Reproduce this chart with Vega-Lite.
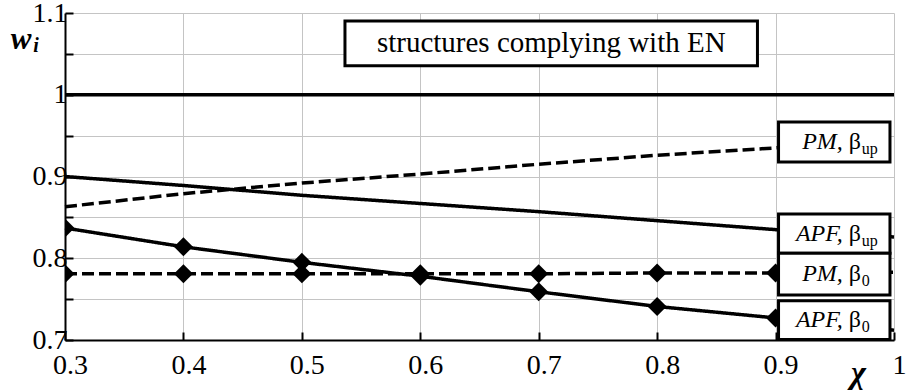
{
  "$schema": "https://vega.github.io/schema/vega-lite/v6.json",
  "width": 829,
  "height": 327,
  "autosize": {"type": "none"},
  "padding": {"left": 65, "top": 13, "right": 13, "bottom": 50},
  "background": "white",
  "config": {
    "view": {"stroke": null},
    "font": "Liberation Serif, Times New Roman, serif",
    "axis": {
      "labelFont": "Liberation Serif, Times New Roman, serif",
      "labelColor": "black",
      "titleFont": "Liberation Serif, Times New Roman, serif",
      "titleColor": "black",
      "domainColor": "black",
      "domainWidth": 2,
      "tickColor": "black",
      "tickWidth": 2,
      "gridColor": "#c4c4c4",
      "gridWidth": 1,
      "gridOpacity": 1
    }
  },
  "datasets": {
    "lines": [
      {"chi": 0.3, "w": 1.0, "series": "ref"},
      {"chi": 1.0, "w": 1.0, "series": "ref"},
      {"chi": 0.3, "w": 0.863, "series": "PM_up"},
      {"chi": 0.4, "w": 0.879, "series": "PM_up"},
      {"chi": 0.5, "w": 0.892, "series": "PM_up"},
      {"chi": 0.6, "w": 0.903, "series": "PM_up"},
      {"chi": 0.7, "w": 0.915, "series": "PM_up"},
      {"chi": 0.8, "w": 0.926, "series": "PM_up"},
      {"chi": 0.9, "w": 0.935, "series": "PM_up"},
      {"chi": 1.0, "w": 0.944, "series": "PM_up"},
      {"chi": 0.3, "w": 0.900, "series": "APF_up"},
      {"chi": 0.4, "w": 0.889, "series": "APF_up"},
      {"chi": 0.5, "w": 0.877, "series": "APF_up"},
      {"chi": 0.6, "w": 0.867, "series": "APF_up"},
      {"chi": 0.7, "w": 0.857, "series": "APF_up"},
      {"chi": 0.8, "w": 0.846, "series": "APF_up"},
      {"chi": 0.9, "w": 0.835, "series": "APF_up"},
      {"chi": 1.0, "w": 0.826, "series": "APF_up"},
      {"chi": 0.3, "w": 0.781, "series": "PM_0"},
      {"chi": 0.4, "w": 0.781, "series": "PM_0"},
      {"chi": 0.5, "w": 0.781, "series": "PM_0"},
      {"chi": 0.6, "w": 0.781, "series": "PM_0"},
      {"chi": 0.7, "w": 0.781, "series": "PM_0"},
      {"chi": 0.8, "w": 0.782, "series": "PM_0"},
      {"chi": 0.9, "w": 0.782, "series": "PM_0"},
      {"chi": 1.0, "w": 0.783, "series": "PM_0"},
      {"chi": 0.3, "w": 0.837, "series": "APF_0"},
      {"chi": 0.4, "w": 0.814, "series": "APF_0"},
      {"chi": 0.5, "w": 0.795, "series": "APF_0"},
      {"chi": 0.6, "w": 0.778, "series": "APF_0"},
      {"chi": 0.7, "w": 0.759, "series": "APF_0"},
      {"chi": 0.8, "w": 0.741, "series": "APF_0"},
      {"chi": 0.9, "w": 0.727, "series": "APF_0"},
      {"chi": 1.0, "w": 0.712, "series": "APF_0"}
    ],
    "boxes": [
      {"x0": 0.5364, "x1": 0.8847, "y0": 1.0355, "y1": 1.0901},
      {"x0": 0.9025, "x1": 0.9966, "y0": 0.9177, "y1": 0.9667},
      {"x0": 0.9025, "x1": 0.9966, "y0": 0.806, "y1": 0.854},
      {"x0": 0.9025, "x1": 0.9966, "y0": 0.755, "y1": 0.806},
      {"x0": 0.9025, "x1": 0.9966, "y0": 0.7005, "y1": 0.748}
    ],
    "labels": [
      {"name": "PM,", "beta": "β", "sub": "up", "tx": 0.9576, "ym": 0.9422},
      {"name": "APF,", "beta": "β", "sub": "up", "tx": 0.9576, "ym": 0.830},
      {"name": "PM,", "beta": "β", "sub": "0", "tx": 0.9576, "ym": 0.7805},
      {"name": "APF,", "beta": "β", "sub": "0", "tx": 0.9576, "ym": 0.724}
    ],
    "note": [
      {"text": "structures complying with EN", "tx": 0.7106, "ym": 1.0628}
    ]
  },
  "layer": [
    {
      "data": {"name": "lines"},
      "mark": {"type": "line", "color": "black", "strokeWidth": 3.5},
      "encoding": {
        "x": {
          "field": "chi", "type": "quantitative",
          "scale": {"domain": [0.3, 1.0], "nice": false, "zero": false},
          "axis": {
            "values": [0.3, 0.4, 0.5, 0.6, 0.7, 0.8, 0.9, 1.0],
            "labelExpr": "datum.value == 1 ? '1' : format(datum.value, '.1f')",
            "labelFontSize": 28,
            "labelPadding": 19,
            "labelOffset": 5,
            "labelFlush": false,
            "tickSize": -8,
            "grid": true,
            "title": "χ",
            "titleFontSize": 32,
            "titleFontStyle": "italic",
            "titleFontWeight": "bold",
            "titleX": 793,
            "titleY": 32,
            "titleBaseline": "middle"
          }
        },
        "y": {
          "field": "w", "type": "quantitative",
          "scale": {"domain": [0.7, 1.1], "nice": false, "zero": false},
          "axis": {
            "values": [0.7, 0.75, 0.8, 0.85, 0.9, 0.95, 1.0, 1.05, 1.1],
            "labelExpr": "abs(datum.value * 10 - round(datum.value * 10)) < 0.01 ? (datum.value == 1 ? '1' : format(datum.value, '.1f')) : ''",
            "labelFontSize": 28,
            "labelPadding": 6,
            "labelFlush": false,
            "tickSize": -8,
            "grid": true,
            "title": null
          }
        },
        "strokeDash": {
          "field": "series", "type": "nominal",
          "scale": {
            "domain": ["ref", "PM_up", "APF_up", "PM_0", "APF_0"],
            "range": [[1, 0], [12, 5], [1, 0], [12, 5], [1, 0]]
          },
          "legend": null
        }
      }
    },
    {
      "data": {"name": "lines"},
      "transform": [
        {"filter": "(datum.series == 'PM_0' || datum.series == 'APF_0') && datum.chi < 0.95"}
      ],
      "mark": {"type": "point", "shape": "diamond", "filled": true, "color": "black", "size": 360, "opacity": 1, "clip": true},
      "encoding": {
        "x": {"field": "chi", "type": "quantitative"},
        "y": {"field": "w", "type": "quantitative"}
      }
    },
    {
      "data": {"name": "boxes"},
      "mark": {"type": "rect", "fill": "white", "stroke": "black", "strokeWidth": 3},
      "encoding": {
        "x": {"field": "x0", "type": "quantitative"},
        "x2": {"field": "x1"},
        "y": {"field": "y0", "type": "quantitative"},
        "y2": {"field": "y1"}
      }
    },
    {
      "data": {"name": "note"},
      "mark": {"type": "text", "font": "Liberation Serif, Times New Roman, serif", "fontSize": 29, "align": "center", "baseline": "middle", "color": "black"},
      "encoding": {
        "x": {"field": "tx", "type": "quantitative"},
        "y": {"field": "ym", "type": "quantitative"},
        "text": {"field": "text"}
      }
    },
    {
      "data": {"name": "labels"},
      "mark": {"type": "text", "font": "Liberation Serif, Times New Roman, serif", "fontSize": 24, "fontStyle": "italic", "align": "right", "baseline": "middle", "color": "black", "dx": -1},
      "encoding": {
        "x": {"field": "tx", "type": "quantitative"},
        "y": {"field": "ym", "type": "quantitative"},
        "text": {"field": "name"}
      }
    },
    {
      "data": {"name": "labels"},
      "mark": {"type": "text", "font": "Liberation Serif, Times New Roman, serif", "fontSize": 24, "align": "left", "baseline": "middle", "color": "black", "dx": 5},
      "encoding": {
        "x": {"field": "tx", "type": "quantitative"},
        "y": {"field": "ym", "type": "quantitative"},
        "text": {"field": "beta"}
      }
    },
    {
      "data": {"name": "labels"},
      "mark": {"type": "text", "font": "Liberation Serif, Times New Roman, serif", "fontSize": 16, "align": "left", "baseline": "middle", "color": "black", "dx": 18, "dy": 7},
      "encoding": {
        "x": {"field": "tx", "type": "quantitative"},
        "y": {"field": "ym", "type": "quantitative"},
        "text": {"field": "sub"}
      }
    },
    {
      "data": {"values": [{}]},
      "mark": {"type": "text", "text": "w", "font": "Liberation Serif, Times New Roman, serif", "fontSize": 31, "fontStyle": "italic", "fontWeight": "bold", "align": "center", "baseline": "middle", "color": "black", "dx": -44, "dy": 27},
      "encoding": {
        "x": {"datum": 0.3, "type": "quantitative"},
        "y": {"datum": 1.1, "type": "quantitative"}
      }
    },
    {
      "data": {"values": [{}]},
      "mark": {"type": "text", "text": "i", "font": "Liberation Serif, Times New Roman, serif", "fontSize": 20, "fontStyle": "italic", "fontWeight": "bold", "align": "center", "baseline": "middle", "color": "black", "dx": -29, "dy": 33},
      "encoding": {
        "x": {"datum": 0.3, "type": "quantitative"},
        "y": {"datum": 1.1, "type": "quantitative"}
      }
    }
  ]
}
